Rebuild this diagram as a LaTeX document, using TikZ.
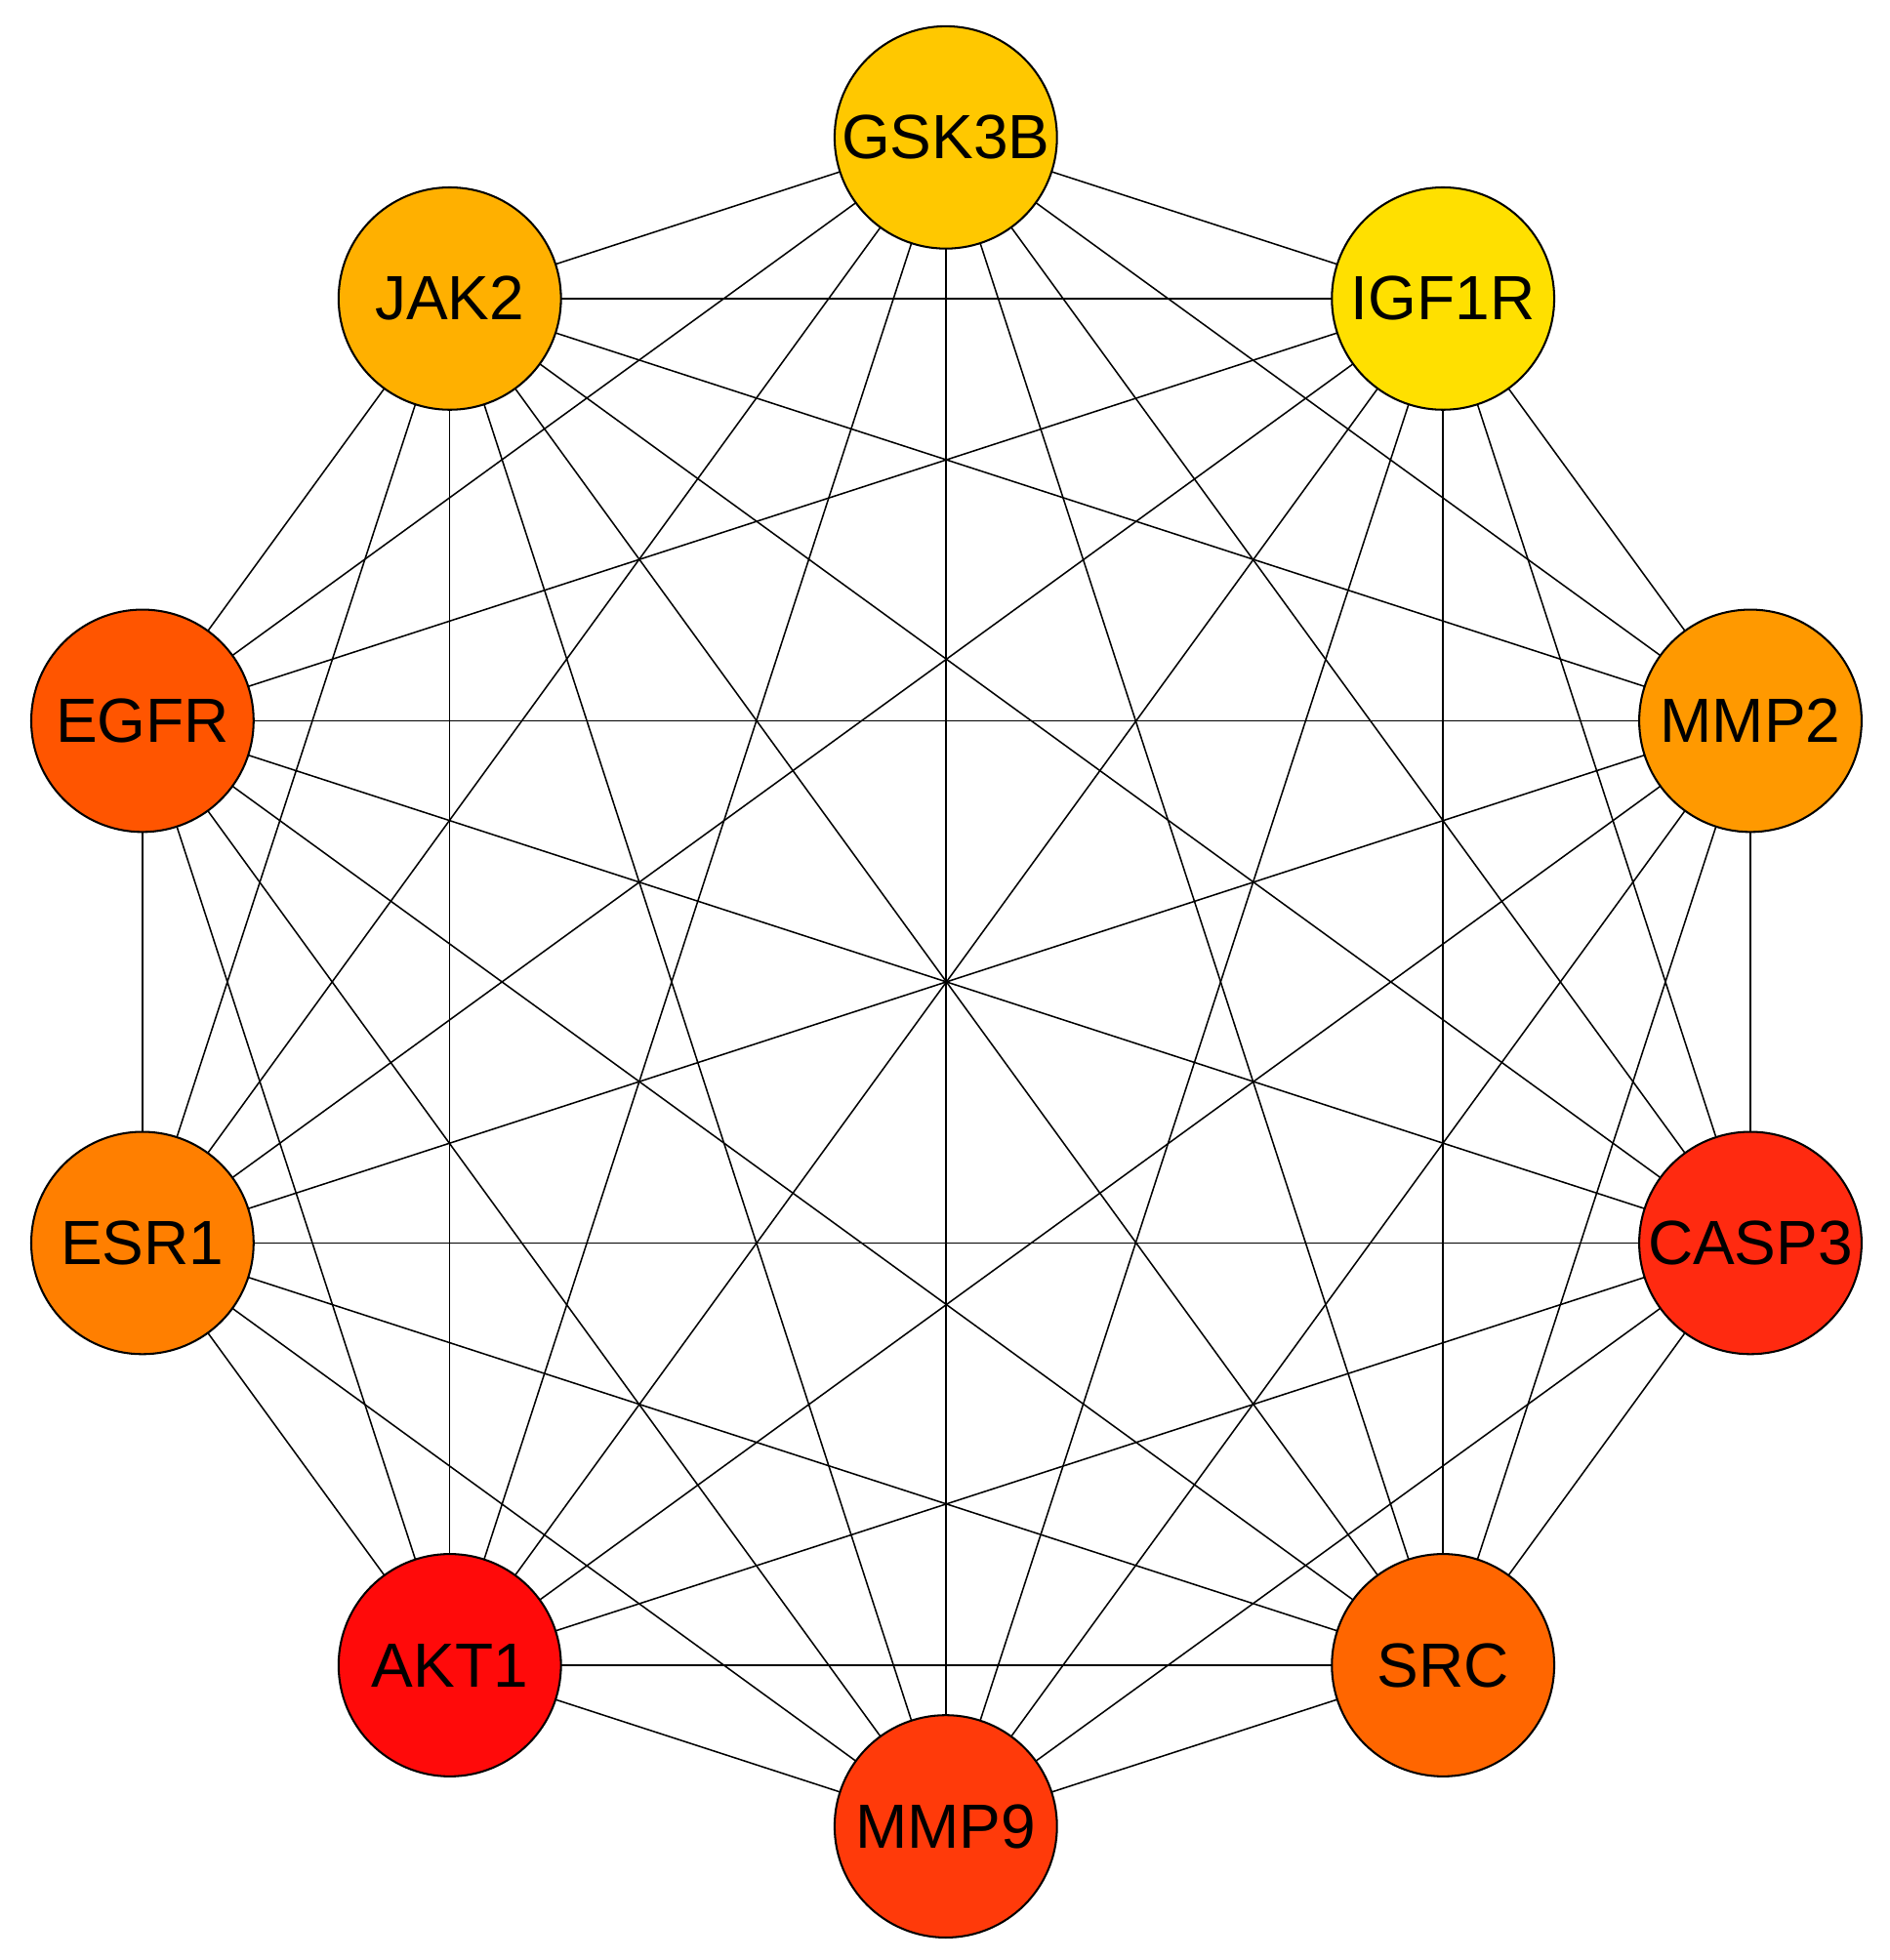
\documentclass[tikz,border=0pt]{standalone}
\usepackage{fontspec}
\setmainfont{Liberation Sans}
\begin{document}
\begin{tikzpicture}[x=0.5pt,y=-0.5pt,
  gene/.style={circle,draw=black,line width=0.8pt,minimum size=89pt,inner sep=0pt,font=\fontsize{25}{25}\selectfont},
  edge/.style={draw=black,line width=0.6pt}]
\useasboundingbox (0,0) rectangle (1512,1569);
\definecolor{cG}{HTML}{FFC800}\definecolor{cJ}{HTML}{FFB000}
\definecolor{cI}{HTML}{FFE000}\definecolor{cE}{HTML}{FF5500}
\definecolor{cM2}{HTML}{FF9900}\definecolor{cS1}{HTML}{FF7F00}
\definecolor{cC}{HTML}{FF2A10}\definecolor{cA}{HTML}{FF0A0A}
\definecolor{cS}{HTML}{FF6600}\definecolor{cM9}{HTML}{FF3A0A}
\coordinate (p1) at (757,110);\coordinate (p2) at (360,239);
\coordinate (p3) at (1155,239);\coordinate (p4) at (114,577);
\coordinate (p5) at (1401,577);\coordinate (p6) at (114,995);
\coordinate (p7) at (1401,995);\coordinate (p8) at (360,1333);
\coordinate (p9) at (1155,1333);\coordinate (p10) at (757,1462);
\foreach \i in {1,...,10}{\foreach \j in {1,...,10}{\ifnum\i<\j \draw[edge] (p\i)--(p\j);\fi}}
\node[gene,fill=cG] (gsk) at (p1) {GSK3B};
\node[gene,fill=cJ] (jak) at (p2) {JAK2};
\node[gene,fill=cI] (igf) at (p3) {IGF1R};
\node[gene,fill=cE] (egfr) at (p4) {EGFR};
\node[gene,fill=cM2] (mmp2) at (p5) {MMP2};
\node[gene,fill=cS1] (esr) at (p6) {ESR1};
\node[gene,fill=cC] (casp) at (p7) {CASP3};
\node[gene,fill=cA] (akt) at (p8) {AKT1};
\node[gene,fill=cS] (src) at (p9) {SRC};
\node[gene,fill=cM9] (mmp9) at (p10) {MMP9};
\end{tikzpicture}
\end{document}
